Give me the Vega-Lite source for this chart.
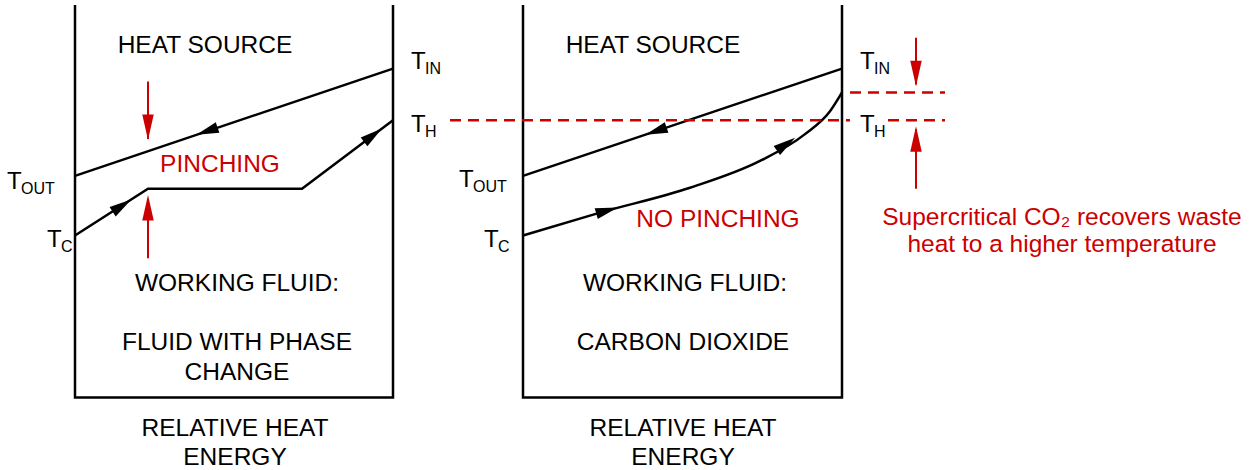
{
  "$schema": "https://vega.github.io/schema/vega-lite/v6.json",
  "width": 1254,
  "height": 470,
  "padding": 0,
  "autosize": {"type": "fit", "contains": "padding"},
  "config": {"view": {"stroke": null}, "font": "Liberation Sans"},
  "datasets": {
    "black": [
      {"g": "l1", "o": 1, "x": 75, "y": 5}, {"g": "l1", "o": 2, "x": 75, "y": 400}, {"g": "l1", "o": 3, "x": 393, "y": 400}, {"g": "l1", "o": 4, "x": 393, "y": 5},
      {"g": "r1", "o": 1, "x": 523, "y": 5}, {"g": "r1", "o": 2, "x": 523, "y": 400}, {"g": "r1", "o": 3, "x": 842, "y": 400}, {"g": "r1", "o": 4, "x": 842, "y": 5},
      {"g": "lh", "o": 1, "x": 75, "y": 177}, {"g": "lh", "o": 2, "x": 393, "y": 69},
      {"g": "lf", "o": 1, "x": 75, "y": 237}, {"g": "lf", "o": 2, "x": 148, "y": 190}, {"g": "lf", "o": 3, "x": 302, "y": 190}, {"g": "lf", "o": 4, "x": 393, "y": 121},
      {"g": "rh", "o": 1, "x": 523, "y": 177}, {"g": "rh", "o": 2, "x": 842, "y": 69}
    ],
    "curve": [
      {"o": 1, "x": 523, "y": 237}, {"o": 2, "x": 600, "y": 214}, {"o": 3, "x": 690, "y": 189}, {"o": 4, "x": 760, "y": 162}, {"o": 5, "x": 805, "y": 135}, {"o": 6, "x": 830, "y": 112}, {"o": 7, "x": 842, "y": 93}
    ],
    "red": [
      {"g": "d1", "o": 1, "x": 450, "y": 121}, {"g": "d1", "o": 2, "x": 850, "y": 121},
      {"g": "d3", "o": 1, "x": 888, "y": 121}, {"g": "d3", "o": 2, "x": 945, "y": 121},
      {"g": "d2", "o": 1, "x": 850, "y": 93}, {"g": "d2", "o": 2, "x": 945, "y": 93}
    ],
    "redSolid": [
      {"g": "a1", "o": 1, "x": 148, "y": 82}, {"g": "a1", "o": 2, "x": 148, "y": 140},
      {"g": "a2", "o": 1, "x": 148, "y": 260}, {"g": "a2", "o": 2, "x": 148, "y": 200},
      {"g": "a3", "o": 1, "x": 916, "y": 38}, {"g": "a3", "o": 2, "x": 916, "y": 85},
      {"g": "a4", "o": 1, "x": 916, "y": 190}, {"g": "a4", "o": 2, "x": 916, "y": 130}
    ],
    "blackHeads": [
      {"x": 207, "y": 132, "a": 251}, {"x": 122, "y": 207, "a": 57}, {"x": 373, "y": 136, "a": 53},
      {"x": 656, "y": 132, "a": 251}, {"x": 607, "y": 212, "a": 74}, {"x": 786, "y": 145, "a": 55}
    ],
    "redHeads": [
      {"x": 148, "y": 128, "a": 180}, {"x": 148, "y": 209, "a": 0},
      {"x": 916, "y": 74, "a": 180}, {"x": 916, "y": 140, "a": 0}
    ],
    "labels": [
      {"t": "HEAT SOURCE", "x": 205, "y": 46}, {"t": "HEAT SOURCE", "x": 653, "y": 46},
      {"t": "WORKING FLUID:", "x": 237, "y": 286}, {"t": "WORKING FLUID:", "x": 685, "y": 286},
      {"t": "FLUID WITH PHASE", "x": 237, "y": 345}, {"t": "CHANGE", "x": 237, "y": 375},
      {"t": "CARBON DIOXIDE", "x": 683, "y": 345},
      {"t": "RELATIVE HEAT", "x": 235, "y": 432}, {"t": "ENERGY", "x": 235, "y": 461},
      {"t": "RELATIVE HEAT", "x": 683, "y": 432}, {"t": "ENERGY", "x": 683, "y": 461}
    ],
    "redLabels": [
      {"t": "PINCHING", "x": 220, "y": 166}, {"t": "NO PINCHING", "x": 718, "y": 221},
      {"t": "Supercritical CO₂ recovers waste", "x": 1062, "y": 219},
      {"t": "heat to a higher temperature", "x": 1062, "y": 247}
    ],
    "tees": [
      {"t": "T", "x": 411, "y": 62}, {"t": "T", "x": 411, "y": 126},
      {"t": "T", "x": 7, "y": 183}, {"t": "T", "x": 47, "y": 242},
      {"t": "T", "x": 860, "y": 62}, {"t": "T", "x": 860, "y": 126},
      {"t": "T", "x": 459, "y": 181}, {"t": "T", "x": 484, "y": 242}
    ],
    "subs": [
      {"t": "IN", "x": 425, "y": 69}, {"t": "H", "x": 425, "y": 133},
      {"t": "OUT", "x": 21, "y": 190}, {"t": "C", "x": 61, "y": 249},
      {"t": "IN", "x": 874, "y": 69}, {"t": "H", "x": 874, "y": 133},
      {"t": "OUT", "x": 473, "y": 188}, {"t": "C", "x": 498, "y": 249}
    ]
  },
  "encoding": {
    "x": {"field": "x", "type": "quantitative", "scale": {"domain": [0, 1254], "nice": false, "zero": false}, "axis": null},
    "y": {"field": "y", "type": "quantitative", "scale": {"domain": [0, 470], "nice": false, "zero": false, "reverse": true}, "axis": null}
  },
  "layer": [
    {"data": {"name": "black"}, "mark": {"type": "line", "color": "black", "strokeWidth": 2.5}, "encoding": {"detail": {"field": "g"}, "order": {"field": "o"}}},
    {"data": {"name": "curve"}, "mark": {"type": "line", "color": "black", "strokeWidth": 2.5, "interpolate": "monotone"}, "encoding": {"order": {"field": "o"}}},
    {"data": {"name": "red"}, "mark": {"type": "line", "color": "#cc0000", "strokeWidth": 2.5, "strokeDash": [11, 7]}, "encoding": {"detail": {"field": "g"}, "order": {"field": "o"}}},
    {"data": {"name": "redSolid"}, "mark": {"type": "line", "color": "#cc0000", "strokeWidth": 2}, "encoding": {"detail": {"field": "g"}, "order": {"field": "o"}}},
    {"data": {"name": "blackHeads"}, "mark": {"type": "point", "shape": "M0,-1L0.5,1L-0.5,1Z", "filled": true, "color": "black", "size": 500, "opacity": 1}, "encoding": {"angle": {"field": "a", "type": "quantitative", "scale": null}}},
    {"data": {"name": "redHeads"}, "mark": {"type": "point", "shape": "M0,-1L0.45,1L-0.45,1Z", "filled": true, "color": "#cc0000", "size": 650, "opacity": 1}, "encoding": {"angle": {"field": "a", "type": "quantitative", "scale": null}}},
    {"data": {"name": "labels"}, "mark": {"type": "text", "fontSize": 24.5, "color": "black", "align": "center", "baseline": "middle"}, "encoding": {"text": {"field": "t"}}},
    {"data": {"name": "redLabels"}, "mark": {"type": "text", "fontSize": 24.5, "color": "#cc0000", "align": "center", "baseline": "middle"}, "encoding": {"text": {"field": "t"}}},
    {"data": {"name": "tees"}, "mark": {"type": "text", "fontSize": 24, "color": "black", "align": "left", "baseline": "middle"}, "encoding": {"text": {"field": "t"}}},
    {"data": {"name": "subs"}, "mark": {"type": "text", "fontSize": 16, "color": "black", "align": "left", "baseline": "middle"}, "encoding": {"text": {"field": "t"}}}
  ]
}
